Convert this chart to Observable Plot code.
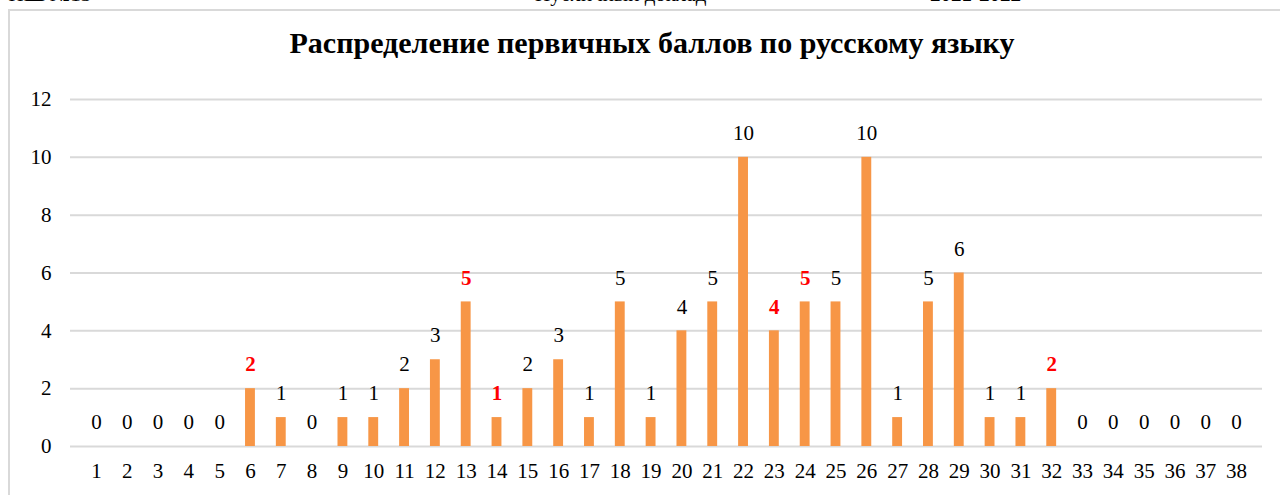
<!DOCTYPE html>
<html><head><meta charset="utf-8">
<script src="https://cdn.jsdelivr.net/npm/d3@7"></script>
<script src="https://cdn.jsdelivr.net/npm/@observablehq/plot@0.6"></script>
<style>
body{margin:0;background:#fff;font-family:"Liberation Serif","Times New Roman",serif;overflow:hidden;}
#wrap{position:relative;width:1280px;height:495px;}
.hdr{position:absolute;top:-18px;font-size:21px;color:#000;white-space:nowrap;}
#frame{position:absolute;left:8px;top:9px;width:1272px;height:500px;border:2px solid #d9d9d9;border-right:none;box-sizing:border-box;}
#title{position:absolute;left:0;top:26px;width:1304px;text-align:center;font-weight:bold;font-size:30px;}
#chart{position:absolute;left:0;top:80px;}
</style></head>
<body><div id="wrap">
<div class="hdr" style="left:-2px">«НШ №13»</div>
<div class="hdr" style="left:535px">Публичный доклад</div>
<div class="hdr" style="left:930px;font-weight:bold">2021-2022</div>
<div id="frame"></div>
<div id="title">Распределение первичных баллов по русскому языку</div>
<div id="chart"></div>
</div>
<script>
const scores = d3.range(1, 39);
const counts = [0,0,0,0,0,2,1,0,1,1,2,3,5,1,2,3,1,5,1,4,5,10,4,5,5,10,1,5,6,1,1,2,0,0,0,0,0,0];
const highlighted = [6,13,14,23,24,32];
const yTicks = [0,2,4,6,8,10,12];
const serif = "Liberation Serif, Times New Roman, serif";
const fs = 21;

const data = scores.map((s,i)=>({score:String(s), count:counts[i], hi:highlighted.includes(s)}));

const chart = Plot.plot({
  width: 1280, height: 415,
  marginLeft: 70, marginRight: 18, marginTop: 19, marginBottom: 49,
  style: {fontFamily: serif, fontSize: fs + "px", background: "transparent", color: "#000"},
  x: {domain: scores.map(String), padding: 0.68, axis: null},
  y: {domain: [0,12], axis: null},
  marks: [
    Plot.gridY(yTicks, {stroke: "#d9d9d9", strokeOpacity: 1, strokeWidth: 2}),
    Plot.axisX({tickSize: 0, tickPadding: 17, fontSize: fs, fontFamily: serif, label: null}),
    Plot.axisY(yTicks, {tickSize: 0, tickPadding: 19, fontSize: fs, fontFamily: serif, label: null}),
    Plot.barY(data, {x: "score", y: "count", fill: "#F79646"}),
    Plot.text(data.filter(d=>!d.hi), {x: "score", y: "count", text: d=>String(d.count), dy: -24, fill: "#000", fontSize: fs, fontFamily: serif}),
    Plot.text(data.filter(d=>d.hi), {x: "score", y: "count", text: d=>String(d.count), dy: -24, fill: "#ff0000", fontWeight: "bold", fontSize: fs, fontFamily: serif})
  ]
});
document.getElementById("chart").appendChild(chart);
</script>
</body></html>
